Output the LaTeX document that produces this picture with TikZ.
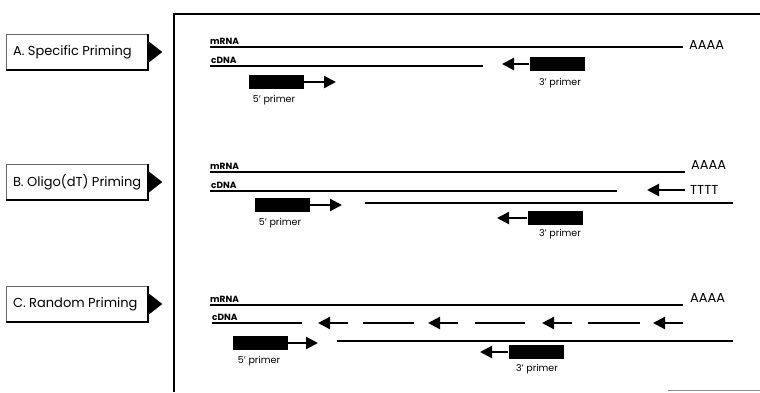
\documentclass[tikz,border=0pt]{standalone}
\usepackage{fontspec}
\setmainfont{Poppins}
\usetikzlibrary{arrows.meta}

\tikzset{
  strand/.style={line width=2.2pt},
  primerbox/.style={fill=black, minimum width=55pt, minimum height=14pt, inner sep=0pt},
  ext/.style={line width=2.2pt, -{Triangle[length=12pt,width=12pt]}},
  tag/.style={font=\fontsize{9}{10}\selectfont\bfseries, anchor=south west, inner sep=0pt},
  plabel/.style={font=\fontsize{9.5}{11}\selectfont, inner sep=0pt},
  tailseq/.style={font=\fontsize{13}{15}\selectfont, anchor=west, inner sep=0pt},
  method/.style={draw=black!60, line width=0.5pt, fill=white, minimum width=142pt,
    minimum height=35pt, inner ysep=0pt, inner xsep=7pt,
    font=\fontsize{13}{15}\selectfont},
  shadow/.style={line width=2pt},
  frame/.style={line width=1.6pt}
}

\begin{document}
\begin{tikzpicture}[x=1pt,y=-1pt]
\useasboundingbox (0,0) rectangle (760,392);

% open frame around the three panels
\draw[frame] (174,392) -- (174,14) -- (760,14);
\draw[black!45, line width=1pt] (668,390.5) -- (760,390.5);

% method tabs with pointer
\foreach \nm/\yy/\txt in {ta/52/{A. Specific Priming}, tb/182/{B. Oligo(dT) Priming}, tc/304/{C. Random Priming}}{
  \node[method] (\nm) at (77,\yy) {\makebox[128pt][l]{\txt}};
  \draw[shadow] (\nm.south west) -- (\nm.south east) -- (\nm.north east);
  \fill ([yshift=11pt]\nm.east) -- ([xshift=14pt]\nm.east) -- ([yshift=-11pt]\nm.east) -- cycle;
}

% ---------- A. specific priming ----------
\coordinate (am0) at (210,47); \coordinate (am1) at (683,47);
\coordinate (ac0) at (210,66); \coordinate (ac1) at (483,66);
\draw[strand] (am0) -- (am1);
\draw[strand] (ac0) -- (ac1);
\node[tag] (amt) at (210,45) {mRNA};
\node[tag] (act) at (211,64) {cDNA};
\node[tailseq] (apa) at (689,45) {AAAA};
\node[primerbox] (a3) at (557,64) {};
\coordinate (a3t) at (502,64);
\draw[ext] (a3.west) -- (a3t);
\node[plabel] (a3l) at (560,83) {3' primer};
\node[primerbox] (a5) at (276,82) {};
\coordinate (a5t) at (336,82);
\draw[ext] (a5.east) -- (a5t);
\node[plabel] (a5l) at (274,100) {5' primer};

% ---------- B. oligo(dT) priming ----------
\coordinate (bm0) at (210,172); \coordinate (bm1) at (685,172);
\coordinate (bc0) at (210,191); \coordinate (bc1) at (617,191);
\coordinate (bs0) at (365,203); \coordinate (bs1) at (733,203);
\draw[strand] (bm0) -- (bm1);
\draw[strand] (bc0) -- (bc1);
\draw[strand] (bs0) -- (bs1);
\node[tag] (bmt) at (210,170) {mRNA};
\node[tag] (bct) at (211,189) {cDNA};
\node[tailseq] (bpa) at (691,165) {AAAA};
\node[tailseq] (bdt) at (690,190) {TTTT};
\coordinate (bdtt) at (647,190);
\draw[ext] ([xshift=-5pt]bdt.west) -- (bdtt);
\node[primerbox] (b5) at (282,205) {};
\coordinate (b5t) at (342,205);
\draw[ext] (b5.east) -- (b5t);
\node[plabel] (b5l) at (280,223) {5' primer};
\node[primerbox] (b3) at (555,218) {};
\coordinate (b3t) at (497,218);
\draw[ext] (b3.west) -- (b3t);
\node[plabel] (b3l) at (560,234) {3' primer};

% ---------- C. random priming ----------
\coordinate (cm0) at (210,305); \coordinate (cm1) at (683,305);
\coordinate (cc0) at (212,323); \coordinate (cc1) at (302,323);
\coordinate (cs0) at (337,341); \coordinate (cs1) at (733,341);
\draw[strand] (cm0) -- (cm1);
\draw[strand] (cc0) -- (cc1);
\draw[strand] (cs0) -- (cs1);
\node[tag] (cmt) at (210,303) {mRNA};
\node[tag] (cct) at (212,321) {cDNA};
\node[tailseq] (cpa) at (690,298) {AAAA};
% random-primed fragments along the cDNA
\foreach \ta/\tb in {348/318, 458/428, 572/542, 683/653}{
  \draw[ext] (\ta,323) -- (\tb,323);
}
\foreach \sa/\sb in {363/414, 475/525, 588/640}{
  \draw[strand] (\sa,323) -- (\sb,323);
}
\node[primerbox] (c5) at (260,343) {};
\coordinate (c5t) at (318,343);
\draw[ext] (c5.east) -- (c5t);
\node[plabel] (c5l) at (259,361) {5' primer};
\node[primerbox] (c3) at (536,352) {};
\coordinate (c3t) at (480,352);
\draw[ext] (c3.west) -- (c3t);
\node[plabel] (c3l) at (537,369) {3' primer};
\end{tikzpicture}
\end{document}
